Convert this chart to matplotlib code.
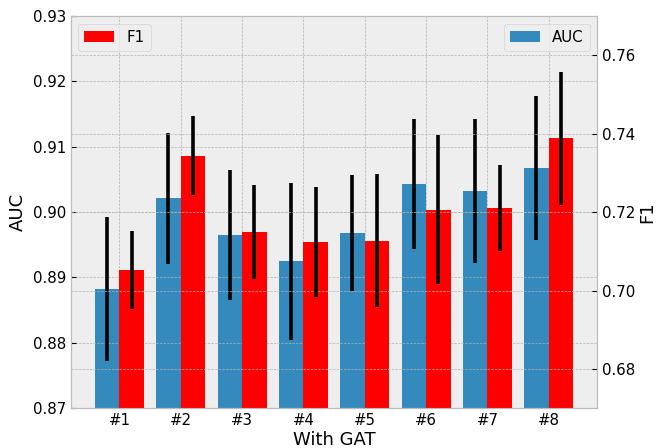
import numpy as np
import matplotlib
matplotlib.use("Agg")
from matplotlib import pyplot as plt

plt.style.use("bmh")

labels = ["#1", "#2", "#3", "#4", "#5", "#6", "#7", "#8"]
auc = [0.8882, 0.9021, 0.8965, 0.8925, 0.8968, 0.9043, 0.9032, 0.9067]
auc_err = [0.0110, 0.0100, 0.0100, 0.0120, 0.0089, 0.0100, 0.0110, 0.0110]
f1 = [0.7052, 0.7344, 0.7150, 0.7124, 0.7127, 0.7206, 0.7211, 0.7388]
f1_err = [0.0100, 0.0100, 0.0120, 0.0140, 0.0170, 0.0190, 0.0110, 0.0170]

x = np.arange(len(labels))
w = 0.4
err_kw = dict(elinewidth=2.6, capsize=0, ecolor="black")

fig = plt.figure(figsize=(6.57, 4.48), dpi=100)
ax1 = fig.add_axes([0.108, 0.089, 0.801, 0.875])
ax2 = ax1.twinx()

ax1.bar(x - w / 2, auc, w, yerr=auc_err, color="#348ABD", label="AUC",
        error_kw=err_kw)
ax2.bar(x + w / 2, f1, w, yerr=f1_err, color="red", label="F1",
        error_kw=err_kw)

ax1.set_ylim(0.87, 0.93)
ax2.set_ylim(0.67, 0.77)
ax1.set_yticks(np.arange(0.87, 0.9301, 0.01))
ax2.set_yticks([0.68, 0.70, 0.72, 0.74, 0.76])
ax1.set_xticks(x)
ax1.set_xticklabels(labels)

ax1.set_xlabel("With GAT", fontsize=13, labelpad=2)
ax1.set_ylabel("AUC", fontsize=13)
ax2.set_ylabel("F1", fontsize=13, labelpad=2)
for ax in (ax1, ax2):
    ax.tick_params(labelsize=10.8)

ax1.legend(loc="upper right", fontsize=10.8)
ax2.legend(loc="upper left", fontsize=10.8)

fig.savefig("out.png", dpi=100)
